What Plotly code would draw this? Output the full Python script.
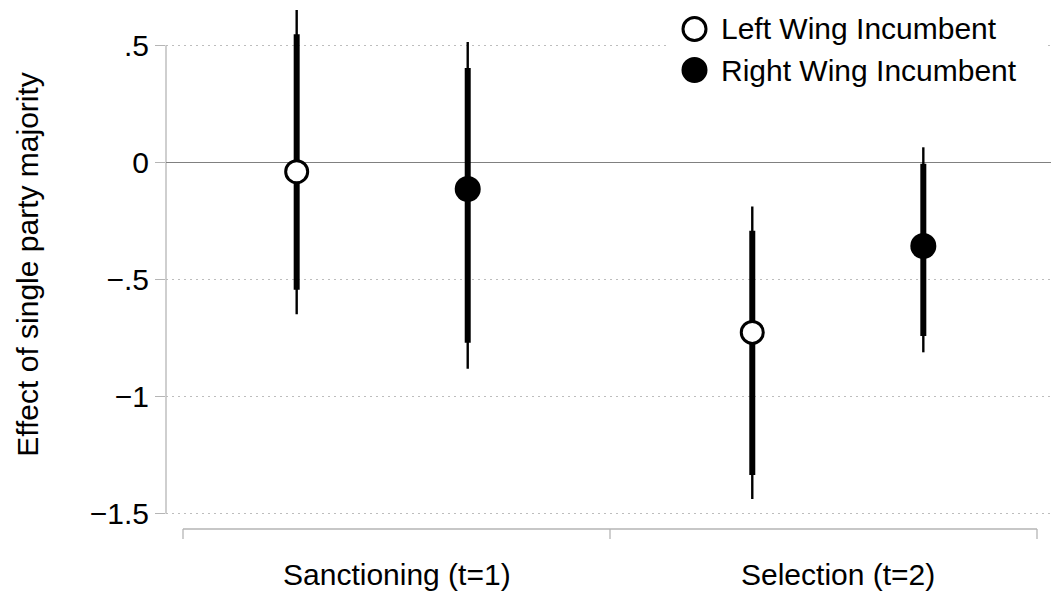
import plotly.graph_objects as go

# ---- data ----
categories = ["Sanctioning (t=1)", "Selection (t=2)"]
series_names = ["Left Wing Incumbent", "Right Wing Incumbent"]

left_est = [-0.040, -0.726]
left_lo90 = [-0.544, -1.335]
left_hi90 = [0.546, -0.292]
left_lo95 = [-0.648, -1.437]
left_hi95 = [0.650, -0.189]

right_est = [-0.114, -0.357]
right_lo90 = [-0.770, -0.741]
right_hi90 = [0.402, -0.006]
right_lo95 = [-0.881, -0.811]
right_hi95 = [0.513, 0.064]

ytick_vals = [0.5, 0, -0.5, -1, -1.5]
ytick_text = [".5", "0", "\u2212.5", "\u22121", "\u22121.5"]

# ---- layout constants ----
W, H = 1051, 596
ML, MR, MT, MB = 166, 0, 0, 67
group_pos = [1, 2]
offset = 0.1877
label_pos = [1.032, 2.0]
FONT = "Liberation Sans, Arial, Helvetica, sans-serif"
FS = 30

pw = W - ML - MR
ph = H - MT - MB

def px_x(px):
    return (px - ML) / pw

def px_y(py):
    return (H - MB - py) / ph

fig = go.Figure()

def seg(xs, lo, hi):
    X, Y = [], []
    for x, a, b in zip(xs, lo, hi):
        X += [x, x, None]
        Y += [a, b, None]
    return X, Y

xl = [g - offset for g in group_pos]
xr = [g + offset for g in group_pos]

for xs, lo95, hi95, lo90, hi90 in [
    (xl, left_lo95, left_hi95, left_lo90, left_hi90),
    (xr, right_lo95, right_hi95, right_lo90, right_hi90),
]:
    X, Y = seg(xs, lo95, hi95)
    fig.add_trace(go.Scatter(x=X, y=Y, mode="lines", line=dict(color="black", width=2.4),
                             showlegend=False, hoverinfo="skip"))
    X, Y = seg(xs, lo90, hi90)
    fig.add_trace(go.Scatter(x=X, y=Y, mode="lines", line=dict(color="black", width=6),
                             showlegend=False, hoverinfo="skip"))

fig.add_trace(go.Scatter(x=xl, y=left_est, mode="markers", name=series_names[0],
                         showlegend=False,
                         marker=dict(symbol="circle", size=22, color="white",
                                     line=dict(color="black", width=3))))
fig.add_trace(go.Scatter(x=xr, y=right_est, mode="markers", name=series_names[1],
                         showlegend=False,
                         marker=dict(symbol="circle", size=26, color="black",
                                     line=dict(color="black", width=0))))

# x range so that groups land at the right pixels
unit = 455.6
x0 = 1 - (382.2 - ML) / unit
x1 = x0 + pw / unit

ppu = 234.3  # pixels per unit y
y_zero_px = 162.3
ytop = y_zero_px / ppu
ybot = ytop - ph / ppu

axis_gray = "#b5b5b5"
shapes = []
# y axis line spanning tick range
shapes.append(dict(type="line", xref="paper", yref="y", x0=0, x1=0,
                   y0=min(ytick_vals), y1=max(ytick_vals),
                   line=dict(color=axis_gray, width=1.3), layer="below"))
# x axis line and ticks
xa0 = px_x(183)
xa1 = px_x(1037)
tl = 10 / ph
shapes.append(dict(type="line", xref="paper", yref="paper", x0=xa0, x1=xa1, y0=0, y1=0,
                   line=dict(color=axis_gray, width=1.3)))
for t in [xa0, (xa0 + xa1) / 2, xa1]:
    shapes.append(dict(type="line", xref="paper", yref="paper", x0=t, x1=t, y0=0, y1=-tl,
                       line=dict(color=axis_gray, width=1.3)))

# legend (drawn as key: white box, symbols, labels)
shapes.append(dict(type="rect", xref="paper", yref="paper", x0=px_x(670), x1=px_x(1047),
                   y0=px_y(96), y1=px_y(0), fillcolor="white", line=dict(width=0)))
leg_rows = [29, 70]
leg_sym_x = 694.5
shapes.append(dict(type="circle", xref="paper", yref="paper", xsizemode="pixel", ysizemode="pixel",
                   xanchor=px_x(leg_sym_x), yanchor=px_y(leg_rows[0]),
                   x0=-11.5, x1=11.5, y0=-11.5, y1=11.5,
                   fillcolor="white", line=dict(color="black", width=3)))
shapes.append(dict(type="circle", xref="paper", yref="paper", xsizemode="pixel", ysizemode="pixel",
                   xanchor=px_x(leg_sym_x), yanchor=px_y(leg_rows[1]),
                   x0=-13, x1=13, y0=-13, y1=13,
                   fillcolor="black", line=dict(color="black", width=0)))

annotations = []
for name, ry in zip(series_names, leg_rows):
    annotations.append(dict(text=name, x=px_x(719), xref="paper", y=px_y(ry), yref="paper",
                            xanchor="left", yanchor="middle", showarrow=False,
                            font=dict(family=FONT, size=FS, color="black")))
for lab, xp in zip(categories, label_pos):
    annotations.append(dict(text=lab, x=xp, xref="x", y=px_y(574),
                            yref="paper", xanchor="center", yanchor="middle", showarrow=False,
                            font=dict(family=FONT, size=FS, color="black")))

fig.update_layout(
    width=W, height=H,
    margin=dict(l=ML, r=MR, t=MT, b=MB, autoexpand=False),
    paper_bgcolor="white", plot_bgcolor="white",
    font=dict(family=FONT, size=FS, color="black"),
    xaxis=dict(range=[x0, x1], showline=False, showgrid=False, zeroline=False,
               showticklabels=False, ticks=""),
    yaxis=dict(range=[ybot, ytop], tickvals=ytick_vals, ticktext=ytick_text,
               ticks="outside", ticklen=10, tickcolor=axis_gray, tickwidth=1.3,
               showline=False, showgrid=True, gridcolor="#bdbdbd", griddash="1.5px,4.5px",
               gridwidth=1,
               zeroline=True, zerolinecolor="#808080", zerolinewidth=1.3,
               tickfont=dict(family=FONT, size=FS, color="black"),
               title=dict(text="Effect of single party majority", standoff=42,
                          font=dict(family=FONT, size=FS, color="black")),
               automargin=False),
    shapes=shapes, annotations=annotations, showlegend=False,
    hovermode=False,
)

fig.write_html("out.html", config={"displayModeBar": False, "staticPlot": True},
               post_script="document.body.style.margin='0px';")
